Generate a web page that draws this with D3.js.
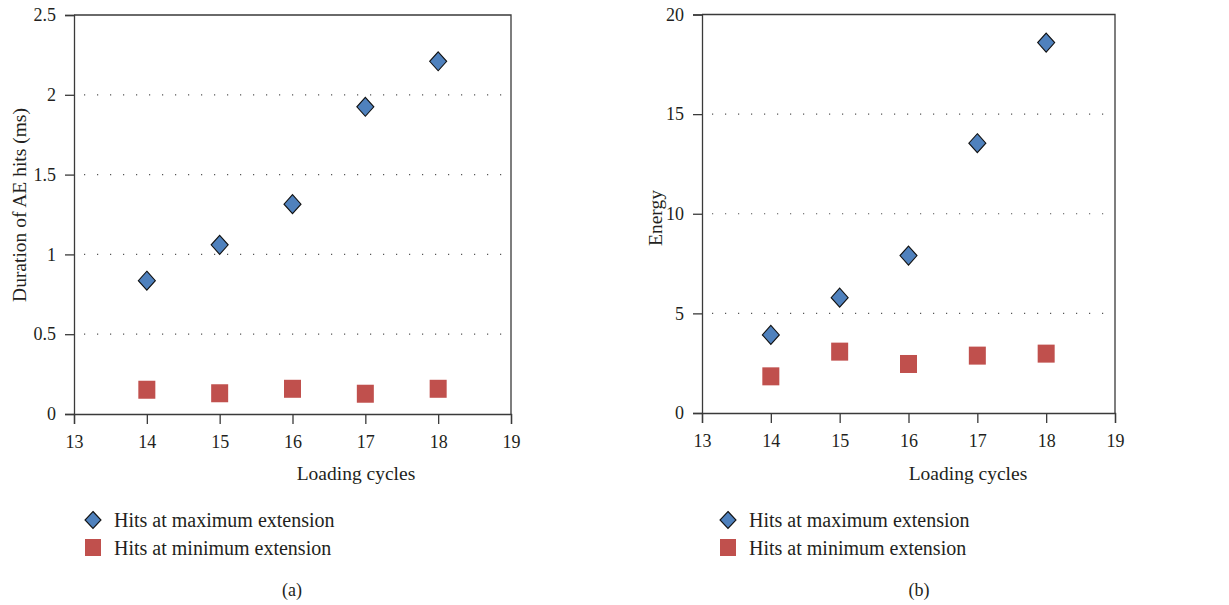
<!DOCTYPE html>
<html>
<head>
<meta charset="utf-8">
<script src="https://cdn.jsdelivr.net/npm/d3@7"></script>
<style>
  html, body { margin: 0; padding: 0; background: #fff; }
  svg { display: block; }
  text { font-family: "Liberation Serif", "Times New Roman", serif; fill: #231f20; }
</style>
</head>
<body>
<svg id="chart" width="1229" height="605"></svg>
<script>
// Loading cycles shared by both panels
const cycles = [14, 15, 16, 17, 18];
const xTicks = [13, 14, 15, 16, 17, 18, 19];

// Panel (a): duration of AE hits (ms)
const durationMax = [0.835, 1.06, 1.315, 1.925, 2.21];
const durationMin = [0.152, 0.13, 0.158, 0.127, 0.158];
const durationTicks = [0, 0.5, 1, 1.5, 2, 2.5];

// Panel (b): energy
const energyMax = [3.92, 5.79, 7.9, 13.54, 18.59];
const energyMin = [1.84, 3.08, 2.46, 2.88, 2.98];
const energyTicks = [0, 5, 10, 15, 20];

const seriesNames = ["Hits at maximum extension", "Hits at minimum extension"];
const blue = "#4f81bd", red = "#c0504d";

const svg = d3.select("#chart");

const panels = [
  { box: { l: 74, r: 511, t: 15, b: 414 }, yDomain: [0, 2.5], yTicks: durationTicks,
    yFmt: d => String(d), maxV: durationMax, minV: durationMin,
    yTitle: "Duration of AE hits (ms)", yTitleX: 19, yTitleY: 205,
    xTitleX: 356, legendX: 93, captionX: 292, caption: "(a)" },
  { box: { l: 702, r: 1115, t: 14.5, b: 413 }, yDomain: [0, 20], yTicks: energyTicks,
    yFmt: d => String(d), maxV: energyMax, minV: energyMin,
    yTitle: "Energy", yTitleX: 655, yTitleY: 218,
    xTitleX: 968, legendX: 728, captionX: 919, caption: "(b)" }
];

const diamond = (cx, cy, hw, hh) =>
  `M${cx},${cy - hh}L${cx + hw},${cy}L${cx},${cy + hh}L${cx - hw},${cy}Z`;

panels.forEach(p => {
  const { l, r, t, b } = p.box;
  const x = d3.scaleLinear().domain([13, 19]).range([l, r]);
  const y = d3.scaleLinear().domain(p.yDomain).range([b, t]);
  const g = svg.append("g");

  // dotted horizontal gridlines
  g.selectAll("line.grid")
    .data(p.yTicks.filter(v => v > p.yDomain[0] && v < p.yDomain[1]))
    .join("line")
    .attr("x1", l + 10).attr("x2", r)
    .attr("y1", d => y(d)).attr("y2", d => y(d))
    .attr("stroke", "#555").attr("stroke-width", 1.2)
    .attr("stroke-dasharray", "1.2,11.8");

  // frame: top and right border
  g.append("path")
    .attr("d", `M${l},${t}H${r}V${b}`)
    .attr("fill", "none").attr("stroke", "#3a3a3a").attr("stroke-width", 1.3);

  // y axis
  const yAxis = g.append("g").attr("transform", `translate(${l},0)`)
    .call(d3.axisLeft(y).tickValues(p.yTicks).tickFormat(p.yFmt).tickSizeOuter(0).tickSize(9).tickPadding(9));
  // x axis
  const xAxis = g.append("g").attr("transform", `translate(0,${b})`)
    .call(d3.axisBottom(x).tickValues(xTicks).tickFormat(d3.format("d")).tickSizeOuter(0).tickSize(10).tickPadding(11));
  [yAxis, xAxis].forEach(a => {
    a.attr("font-family", null).attr("font-size", null);
    a.select(".domain").attr("stroke", "#3a3a3a").attr("stroke-width", 1.3);
    a.selectAll(".tick line").attr("stroke", "#3a3a3a").attr("stroke-width", 1.3);
    a.selectAll("text").style("font-size", "18px").attr("fill", "#231f20");
  });

  // axis titles
  g.append("text")
    .attr("transform", `translate(${p.yTitleX},${p.yTitleY}) rotate(-90)`)
    .attr("text-anchor", "middle").attr("dominant-baseline", "central")
    .style("font-size", "19.5px").text(p.yTitle);
  g.append("text")
    .attr("x", p.xTitleX).attr("y", 480)
    .attr("text-anchor", "middle").style("font-size", "19.5px").text("Loading cycles");

  // markers: minimum extension (squares)
  g.selectAll("rect.min")
    .data(cycles.map((c, i) => [c, p.minV[i]]))
    .join("rect")
    .attr("x", d => x(d[0]) - 8.5).attr("y", d => y(d[1]) - 9)
    .attr("width", 17).attr("height", 18)
    .attr("fill", red);

  // markers: maximum extension (diamonds)
  g.selectAll("path.max")
    .data(cycles.map((c, i) => [c, p.maxV[i]]))
    .join("path")
    .attr("d", d => diamond(x(d[0]), y(d[1]), 8.5, 9.5))
    .attr("fill", blue).attr("stroke", "#111").attr("stroke-width", 1.1);

  // legend
  const lg = g.append("g");
  lg.append("path").attr("d", diamond(p.legendX, 520, 8, 8.5))
    .attr("fill", blue).attr("stroke", "#111").attr("stroke-width", 1.1);
  lg.append("rect").attr("x", p.legendX - 8).attr("y", 539).attr("width", 16).attr("height", 17)
    .attr("fill", red);
  lg.selectAll("text").data(seriesNames).join("text")
    .attr("x", p.legendX + 21).attr("y", (d, i) => 527 + i * 28)
    .style("font-size", "20px").text(d => d);

  // panel caption
  g.append("text").attr("x", p.captionX).attr("y", 596)
    .attr("text-anchor", "middle").style("font-size", "18px").text(p.caption);
});
</script>
</body>
</html>
